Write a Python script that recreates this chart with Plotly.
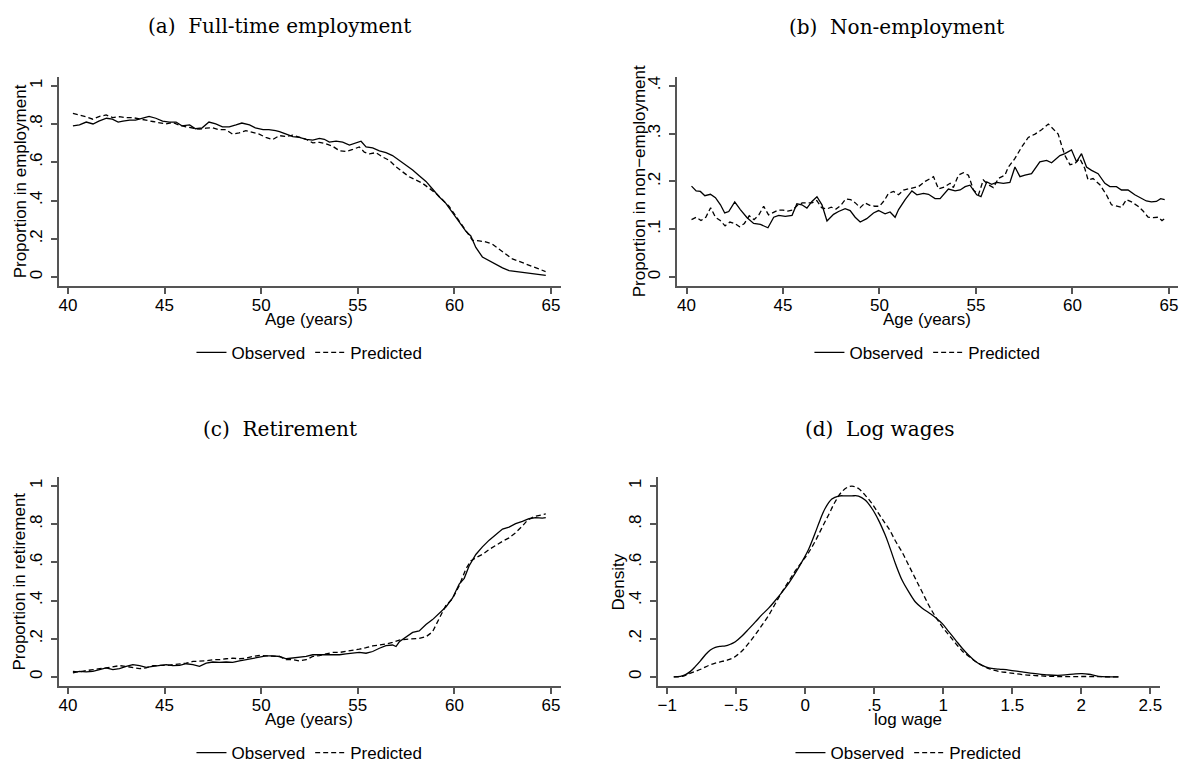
import plotly.graph_objects as go

# ---------------- data ----------------
# (a) Full-time employment
age_a_obs = [40.26, 40.6, 40.95, 41.3, 41.6, 42.0, 42.3, 42.6, 42.85, 43.2, 43.5, 43.9, 44.2, 44.55, 44.9,
             45.25, 45.6, 45.9, 46.3, 46.6, 46.95, 47.3, 47.65, 48.0, 48.35, 48.7, 49.0, 49.4, 49.7, 50.1,
             50.4, 50.75, 50.95, 51.3, 51.64, 51.98, 52.33, 52.67, 53.02, 53.27, 53.53, 53.88, 54.22, 54.57,
             54.91, 55.17, 55.43, 55.77, 56.12, 56.46, 56.8, 57.15, 57.49, 57.84, 58.18, 58.53, 58.87, 59.21,
             59.56, 59.9, 60.25, 60.59, 60.85, 61.11, 61.45, 61.8, 62.14, 62.49, 62.83, 63.17, 63.52, 64.04, 64.73]
emp_obs = [0.79, 0.795, 0.81, 0.80, 0.815, 0.83, 0.825, 0.81, 0.815, 0.82, 0.82, 0.83, 0.84, 0.83, 0.815,
           0.81, 0.81, 0.79, 0.795, 0.775, 0.78, 0.81, 0.80, 0.785, 0.785, 0.795, 0.805, 0.795, 0.78, 0.77,
           0.77, 0.765, 0.76, 0.747, 0.734, 0.73, 0.72, 0.716, 0.725, 0.72, 0.705, 0.71, 0.705, 0.69,
           0.70, 0.71, 0.68, 0.675, 0.66, 0.65, 0.635, 0.61, 0.585, 0.56, 0.53, 0.50, 0.46, 0.42,
           0.385, 0.335, 0.285, 0.24, 0.215, 0.155, 0.105, 0.085, 0.065, 0.048, 0.034, 0.029, 0.024, 0.017, 0.009]
age_a_pred = [40.26, 40.6, 40.95, 41.29, 41.64, 41.98, 42.32, 42.67, 43.01, 43.36, 43.7, 44.04, 44.39, 44.73,
              45.08, 45.42, 45.77, 46.11, 46.45, 46.8, 47.14, 47.49, 47.83, 48.18, 48.52, 48.86, 49.21, 49.55,
              49.9, 50.24, 50.59, 50.95, 51.29, 51.64, 51.98, 52.33, 52.67, 53.02, 53.36, 53.7, 54.05, 54.39,
              54.74, 55.08, 55.34, 55.6, 55.94, 56.29, 56.63, 56.98, 57.32, 57.66, 58.01, 58.35, 58.7, 59.04,
              59.39, 59.73, 60.08, 60.42, 60.76, 60.94, 61.28, 61.62, 61.97, 62.31, 62.66, 63.0, 63.35, 63.69,
              64.04, 64.38, 64.72]
emp_pred = [0.855, 0.847, 0.837, 0.825, 0.84, 0.847, 0.833, 0.838, 0.833, 0.833, 0.825, 0.82, 0.813, 0.808,
            0.80, 0.808, 0.794, 0.785, 0.778, 0.773, 0.778, 0.78, 0.77, 0.77, 0.747, 0.753, 0.765, 0.756,
            0.747, 0.73, 0.718, 0.739, 0.735, 0.742, 0.73, 0.72, 0.701, 0.704, 0.696, 0.684, 0.66, 0.656,
            0.667, 0.68, 0.653, 0.644, 0.65, 0.627, 0.61, 0.576, 0.55, 0.524, 0.507, 0.49, 0.464, 0.438,
            0.404, 0.369, 0.318, 0.266, 0.215, 0.192, 0.189, 0.184, 0.172, 0.146, 0.12, 0.095, 0.082, 0.069,
            0.052, 0.04, 0.029]

# (b) Non-employment
age_b_obs = [40.26, 40.5, 40.72, 40.95, 41.24, 41.5, 41.76, 41.98, 42.19, 42.5, 42.79, 43.14, 43.48, 43.83,
             44.22, 44.52, 44.78, 45.12, 45.47, 45.72, 45.98, 46.24, 46.5, 46.76, 47.02, 47.28, 47.62, 47.88,
             48.22, 48.48, 48.74, 49.0, 49.34, 49.69, 49.95, 50.29, 50.55, 50.81, 50.99, 51.33, 51.68, 51.94,
             52.28, 52.54, 52.88, 53.14, 53.57, 53.92, 54.18, 54.44, 54.69, 55.04, 55.26, 55.56, 55.81, 56.07,
             56.42, 56.76, 57.02, 57.28, 57.54, 57.88, 58.31, 58.66, 58.92, 59.35, 59.61, 59.95, 60.21, 60.47,
             60.73, 60.99, 61.33, 61.68, 61.94, 62.28, 62.54, 62.88, 63.23, 63.57, 63.83, 64.09, 64.35, 64.57, 64.78]
nonemp_obs = [0.19, 0.18, 0.179, 0.17, 0.173, 0.166, 0.151, 0.134, 0.137, 0.157, 0.141, 0.124, 0.112, 0.11,
              0.103, 0.125, 0.129, 0.127, 0.129, 0.153, 0.151, 0.144, 0.158, 0.168, 0.151, 0.117, 0.131, 0.137,
              0.143, 0.139, 0.125, 0.115, 0.122, 0.134, 0.139, 0.132, 0.136, 0.125, 0.141, 0.162, 0.18, 0.172,
              0.175, 0.173, 0.164, 0.164, 0.184, 0.18, 0.182, 0.189, 0.192, 0.172, 0.168, 0.199, 0.194, 0.198,
              0.196, 0.198, 0.23, 0.21, 0.213, 0.216, 0.241, 0.244, 0.239, 0.254, 0.258, 0.266, 0.241, 0.258,
              0.23, 0.223, 0.216, 0.196, 0.189, 0.189, 0.182, 0.182, 0.172, 0.165, 0.159, 0.157, 0.158, 0.164, 0.162]
age_b_pred = [40.26, 40.5, 40.75, 41.0, 41.25, 41.5, 41.75, 42.0, 42.25, 42.5, 42.75, 43.0, 43.25, 43.5, 43.75,
              44.0, 44.25, 44.5, 44.75, 45.0, 45.25, 45.5, 45.75, 46.0, 46.25, 46.5, 46.75, 47.0, 47.25, 47.5,
              47.75, 48.0, 48.25, 48.5, 48.75, 49.0, 49.25, 49.5, 49.75, 50.0, 50.25, 50.47, 50.73, 50.99, 51.25,
              51.5, 52.02, 52.37, 52.8, 53.06, 53.4, 53.66, 53.83, 54.09, 54.35, 54.61, 54.87, 55.13, 55.38,
              55.64, 55.9, 56.16, 56.5, 56.68, 57.02, 57.37, 57.71, 58.06, 58.4, 58.75, 59.09, 59.26, 59.44,
              59.61, 59.87, 60.12, 60.38, 60.64, 60.81, 61.07, 61.42, 61.76, 62.02, 62.28, 62.54, 62.8, 63.06,
              63.4, 63.66, 63.92, 64.18, 64.44, 64.64, 64.78]
nonemp_pred = [0.12, 0.125, 0.118, 0.125, 0.145, 0.125, 0.118, 0.107, 0.115, 0.112, 0.105, 0.112, 0.128, 0.12,
               0.13, 0.148, 0.13, 0.135, 0.14, 0.14, 0.138, 0.14, 0.15, 0.155, 0.155, 0.155, 0.16, 0.145, 0.142,
               0.146, 0.142, 0.15, 0.163, 0.162, 0.155, 0.145, 0.155, 0.15, 0.148, 0.148, 0.16, 0.175, 0.179,
               0.172, 0.182, 0.184, 0.189, 0.2, 0.21, 0.184, 0.189, 0.196, 0.187, 0.213, 0.218, 0.213, 0.182,
               0.172, 0.203, 0.193, 0.187, 0.206, 0.213, 0.23, 0.248, 0.272, 0.292, 0.299, 0.308, 0.32, 0.306,
               0.299, 0.275, 0.254, 0.235, 0.237, 0.248, 0.227, 0.203, 0.206, 0.193, 0.172, 0.151, 0.148, 0.146,
               0.162, 0.157, 0.148, 0.138, 0.125, 0.124, 0.125, 0.118, 0.122]

# (c) Retirement
age_c_obs = [40.26, 40.6, 40.95, 41.29, 41.64, 41.98, 42.33, 42.67, 43.02, 43.36, 43.71, 44.05, 44.4, 44.74,
             45.09, 45.43, 45.78, 46.12, 46.47, 46.81, 47.16, 47.5, 47.84, 48.19, 48.53, 48.88, 49.22, 49.57,
             49.91, 50.26, 50.6, 50.95, 51.3, 51.64, 51.98, 52.33, 52.67, 53.02, 53.36, 53.7, 54.05, 54.39,
             54.74, 55.08, 55.43, 55.77, 56.12, 56.46, 56.8, 56.98, 57.15, 57.49, 57.84, 58.18, 58.53, 58.87,
             59.21, 59.56, 59.9, 60.25, 60.51, 60.76, 61.11, 61.45, 61.8, 62.14, 62.49, 62.83, 63.17, 63.52,
             63.86, 64.2, 64.55, 64.73]
ret_obs = [0.021, 0.029, 0.026, 0.029, 0.038, 0.047, 0.038, 0.043, 0.055, 0.064, 0.059, 0.05, 0.055, 0.059,
           0.064, 0.059, 0.06, 0.069, 0.064, 0.055, 0.072, 0.078, 0.076, 0.078, 0.076, 0.084, 0.09, 0.098,
           0.102, 0.11, 0.11, 0.107, 0.095, 0.098, 0.102, 0.107, 0.116, 0.116, 0.119, 0.116, 0.116, 0.121,
           0.124, 0.128, 0.124, 0.133, 0.15, 0.164, 0.167, 0.159, 0.184, 0.21, 0.233, 0.241, 0.274, 0.3,
           0.331, 0.366, 0.412, 0.486, 0.516, 0.581, 0.641, 0.681, 0.716, 0.745, 0.774, 0.784, 0.802, 0.814,
           0.828, 0.834, 0.831, 0.834]
age_c_pred = [40.26, 40.6, 40.95, 41.29, 41.64, 41.98, 42.33, 42.67, 43.02, 43.36, 43.71, 44.05, 44.4, 44.74,
              45.09, 45.43, 45.78, 46.12, 46.47, 46.81, 47.16, 47.5, 47.84, 48.19, 48.53, 48.88, 49.22, 49.57,
              49.91, 50.26, 50.6, 50.95, 51.3, 51.64, 51.98, 52.33, 52.67, 53.02, 53.36, 53.7, 54.05, 54.39,
              54.74, 55.08, 55.43, 55.77, 56.12, 56.46, 56.8, 57.15, 57.49, 57.84, 58.18, 58.53, 58.87, 59.21,
              59.56, 59.9, 60.25, 60.59, 60.85, 61.11, 61.45, 61.8, 62.14, 62.49, 62.83, 63.17, 63.52, 63.78,
              64.12, 64.38, 64.73]
ret_pred = [0.029, 0.026, 0.033, 0.036, 0.043, 0.047, 0.055, 0.059, 0.055, 0.05, 0.043, 0.047, 0.059, 0.06,
            0.06, 0.064, 0.067, 0.072, 0.081, 0.081, 0.084, 0.09, 0.09, 0.095, 0.098, 0.095, 0.098, 0.107,
            0.112, 0.11, 0.107, 0.107, 0.09, 0.09, 0.084, 0.09, 0.107, 0.112, 0.121, 0.128, 0.128, 0.133,
            0.138, 0.145, 0.153, 0.162, 0.167, 0.172, 0.181, 0.193, 0.197, 0.198, 0.202, 0.21, 0.236, 0.305,
            0.374, 0.409, 0.478, 0.564, 0.607, 0.624, 0.641, 0.667, 0.69, 0.71, 0.728, 0.755, 0.79, 0.82,
            0.84, 0.845, 0.853]

# (d) Log wages (kernel densities)
lw_obs = [-0.952, -0.904, -0.867, -0.831, -0.795, -0.759, -0.723, -0.687, -0.651, -0.614, -0.578, -0.542,
          -0.506, -0.458, -0.41, -0.361, -0.313, -0.265, -0.217, -0.169, -0.12, -0.072, -0.024, 0.024, 0.072,
          0.108, 0.145, 0.193, 0.241, 0.289, 0.337, 0.386, 0.434, 0.482, 0.53, 0.578, 0.607, 0.655, 0.704,
          0.752, 0.8, 0.848, 0.896, 0.945, 0.993, 1.041, 1.089, 1.137, 1.186, 1.234, 1.282, 1.33, 1.402,
          1.475, 1.571, 1.667, 1.764, 1.86, 1.957, 2.005, 2.053, 2.125, 2.198, 2.27]
dens_obs = [0.0, 0.003, 0.012, 0.029, 0.055, 0.084, 0.116, 0.141, 0.155, 0.16, 0.162, 0.171, 0.184, 0.214,
            0.25, 0.288, 0.326, 0.36, 0.4, 0.443, 0.49, 0.543, 0.602, 0.667, 0.753, 0.822, 0.883, 0.931, 0.947,
            0.948, 0.948, 0.947, 0.926, 0.883, 0.822, 0.745, 0.69, 0.59, 0.503, 0.443, 0.391, 0.36, 0.336,
            0.31, 0.279, 0.236, 0.193, 0.15, 0.112, 0.081, 0.06, 0.047, 0.041, 0.036, 0.026, 0.017, 0.01,
            0.009, 0.016, 0.017, 0.014, 0.003, 0.0, 0.0]
lw_pred = [-0.952, -0.89, -0.843, -0.795, -0.747, -0.699, -0.651, -0.602, -0.554, -0.506, -0.458, -0.41,
           -0.361, -0.313, -0.265, -0.217, -0.169, -0.12, -0.072, -0.024, 0.024, 0.072, 0.12, 0.169, 0.217,
           0.265, 0.313, 0.349, 0.386, 0.434, 0.482, 0.53, 0.578, 0.607, 0.655, 0.704, 0.752, 0.8, 0.848,
           0.896, 0.945, 0.993, 1.041, 1.089, 1.137, 1.186, 1.234, 1.282, 1.33, 1.402, 1.475, 1.571, 1.667,
           1.764, 1.86, 1.96, 2.06, 2.16, 2.27]
dens_pred = [0.0, 0.003, 0.016, 0.029, 0.043, 0.06, 0.072, 0.081, 0.09, 0.107, 0.136, 0.176, 0.222, 0.271,
             0.322, 0.383, 0.443, 0.5, 0.555, 0.602, 0.65, 0.71, 0.779, 0.848, 0.917, 0.969, 0.995, 0.998,
             0.986, 0.952, 0.909, 0.857, 0.805, 0.775, 0.71, 0.65, 0.581, 0.512, 0.443, 0.374, 0.314, 0.262,
             0.219, 0.176, 0.136, 0.107, 0.081, 0.06, 0.043, 0.029, 0.022, 0.012, 0.007, 0.003, 0.002, 0.002,
             0.002, 0.001, 0.0]

age_ticks = [40, 45, 50, 55, 60, 65]
prop_ticks = [0, 0.2, 0.4, 0.6, 0.8, 1.0]
prop_labels = ["0", ".2", ".4", ".6", ".8", "1"]
nonemp_ticks = [0, 0.1, 0.2, 0.3, 0.4]
nonemp_labels = ["0", ".1", ".2", ".3", ".4"]
lw_ticks = [-1, -0.5, 0, 0.5, 1, 1.5, 2, 2.5]
lw_labels = ["\u22121", "\u2212.5", "0", ".5", "1", "1.5", "2", "2.5"]

# ---------------- figure ----------------
W, H = 1184, 771
SANS = "Liberation Sans, Arial, Helvetica, sans-serif"
SERIF = "DejaVu Serif, serif"
AX = "#555555"
LW = 1.3
DASH = "5px,3px"

fig = go.Figure()

panels = [
    ("x", "y", "legend", age_a_obs, emp_obs, age_a_pred, emp_pred, "linear"),
    ("x2", "y2", "legend2", age_b_obs, nonemp_obs, age_b_pred, nonemp_pred, "linear"),
    ("x3", "y3", "legend3", age_c_obs, ret_obs, age_c_pred, ret_pred, "linear"),
    ("x4", "y4", "legend4", lw_obs, dens_obs, lw_pred, dens_pred, "spline"),
]
for xa, ya, lg, xo, yo, xp, yp, shape in panels:
    fig.add_trace(go.Scatter(x=xo, y=yo, mode="lines", name="Observed", xaxis=xa, yaxis=ya, legend=lg,
                             line=dict(color="black", width=LW, shape=shape), hoverinfo="skip"))
    fig.add_trace(go.Scatter(x=xp, y=yp, mode="lines", name="Predicted", xaxis=xa, yaxis=ya, legend=lg,
                             line=dict(color="black", width=LW, dash=DASH, shape=shape), hoverinfo="skip"))


def px_x(p):
    return p / W


def px_y(p):
    return 1 - p / H


def axis_common(is_x):
    d = dict(showline=True, linecolor=AX, linewidth=1.5, ticks="outside", ticklen=6, tickwidth=1.5,
             tickcolor=AX, showgrid=False, zeroline=False, fixedrange=True,
             tickfont=dict(family=SANS, size=17, color="black"))
    d["ticklabelstandoff"] = -3 if is_x else 2
    return d


top_dom = [px_y(289), px_y(77)]
bot_dom = [px_y(695), px_y(483)]
left_dom = [px_x(59), px_x(562)]
right_dom = [px_x(678), px_x(1180)]
d_dom = [px_x(659), px_x(1162)]

fig.update_layout(
    xaxis=dict(axis_common(True), domain=left_dom, range=[39.535, 65.52], tickvals=age_ticks, anchor="y"),
    yaxis=dict(axis_common(False), domain=top_dom, range=[-0.046, 1.046], tickvals=prop_ticks,
               ticktext=prop_labels, tickangle=-90, anchor="x"),
    xaxis2=dict(axis_common(True), domain=right_dom, range=[39.5, 65.47], tickvals=age_ticks, anchor="y2"),
    yaxis2=dict(axis_common(False), domain=top_dom, range=[-0.0186, 0.4186], tickvals=nonemp_ticks,
                ticktext=nonemp_labels, tickangle=-90, anchor="x2"),
    xaxis3=dict(axis_common(True), domain=left_dom, range=[39.535, 65.52], tickvals=age_ticks, anchor="y3"),
    yaxis3=dict(axis_common(False), domain=bot_dom, range=[-0.048, 1.046], tickvals=prop_ticks,
                ticktext=prop_labels, tickangle=-90, anchor="x3"),
    xaxis4=dict(axis_common(True), domain=d_dom, range=[-1.067, 2.57], tickvals=lw_ticks, ticktext=lw_labels,
                anchor="y4"),
    yaxis4=dict(axis_common(False), domain=bot_dom, range=[-0.048, 1.046], tickvals=prop_ticks,
                ticktext=prop_labels, tickangle=-90, anchor="x4"),
)


def legend_at(xc, yc):
    return dict(orientation="h", x=xc, y=yc, xanchor="center", yanchor="middle",
                font=dict(family=SANS, size=17, color="black"), bgcolor="rgba(0,0,0,0)",
                itemwidth=30, itemclick=False, itemdoubleclick=False)


fig.update_layout(
    legend=legend_at(px_x(310), px_y(357)),
    legend2=legend_at(px_x(929), px_y(357)),
    legend3=legend_at(px_x(310), px_y(763)),
    legend4=legend_at(px_x(910), px_y(763)),
)

annotations = []
# panel captions
for txt, xc, yc in [("(a)\u00a0\u00a0Full-time employment", 280, 25),
                    ("(b)\u00a0\u00a0Non-employment", 898, 26),
                    ("(c)\u00a0\u00a0Retirement", 280, 434),
                    ("(d)\u00a0\u00a0Log wages", 881, 434)]:
    annotations.append(dict(text=txt, x=px_x(xc), y=px_y(yc), xref="paper", yref="paper",
                            xanchor="center", yanchor="middle", showarrow=False,
                            font=dict(family=SERIF, size=20, color="black")))
# y-axis titles
for txt, xc, yc in [("Proportion in employment", 20, 183),
                    ("Proportion in non\u2212employment", 640, 183),
                    ("Proportion in retirement", 20, 589),
                    ("Density", 620, 589)]:
    annotations.append(dict(text=txt, x=px_x(xc), y=px_y(yc), xref="paper", yref="paper",
                            xanchor="center", yanchor="middle", showarrow=False, textangle=-90,
                            font=dict(family=SANS, size=17, color="black")))
# x-axis titles
for txt, xc, yc in [("Age (years)", 310, 323), ("Age (years)", 929, 323),
                    ("Age (years)", 310, 729), ("log wage", 910, 729)]:
    annotations.append(dict(text=txt, x=px_x(xc), y=px_y(yc), xref="paper", yref="paper",
                            xanchor="center", yanchor="middle", showarrow=False,
                            font=dict(family=SANS, size=17, color="black")))

fig.update_layout(
    annotations=annotations,
    width=W, height=H,
    margin=dict(l=0, r=0, t=0, b=0),
    paper_bgcolor="white", plot_bgcolor="white",
    showlegend=True,
)

fig.write_html("out.html", config={"displayModeBar": False},
               post_script="document.body.style.margin='0';document.body.style.overflow='hidden';")
